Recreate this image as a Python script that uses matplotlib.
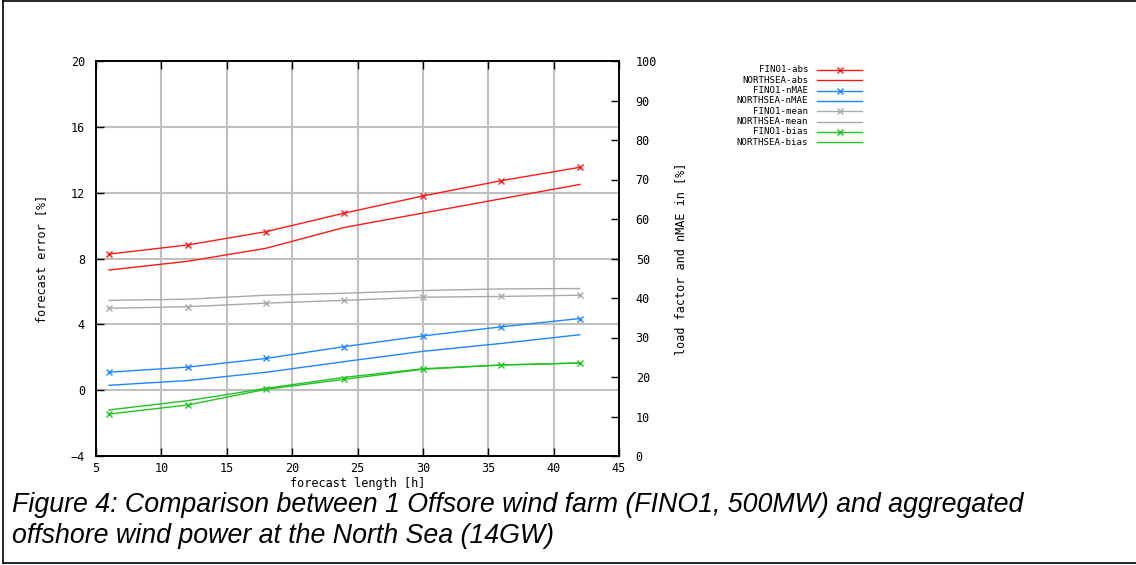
import matplotlib
matplotlib.use("Agg")
import matplotlib.pyplot as plt
from matplotlib.lines import Line2D

# forecast horizons [h]
hours = [6, 12, 18, 24, 30, 36, 42]

# left axis: forecast error [%]
fino1_abs = [8.27, 8.82, 9.63, 10.76, 11.8, 12.73, 13.54]
northsea_abs = [7.3, 7.83, 8.62, 9.89, 10.76, 11.63, 12.5]
fino1_bias = [-1.45, -0.9, 0.05, 0.66, 1.27, 1.53, 1.65]
northsea_bias = [-1.2, -0.64, 0.11, 0.78, 1.3, 1.53, 1.65]

# right axis: load factor and nMAE [%]
fino1_nmae = [21.2, 22.5, 24.7, 27.7, 30.4, 32.7, 34.8]
northsea_nmae = [17.9, 19.1, 21.2, 23.9, 26.5, 28.5, 30.7]
fino1_mean = [37.4, 37.8, 38.7, 39.4, 40.2, 40.4, 40.7]
northsea_mean = [39.4, 39.7, 40.7, 41.2, 41.9, 42.3, 42.4]

series_labels = ["FINO1-abs", "NORTHSEA-abs", "FINO1-nMAE", "NORTHSEA-nMAE",
                 "FINO1-mean", "NORTHSEA-mean", "FINO1-bias", "NORTHSEA-bias"]

x_ticks = [5, 10, 15, 20, 25, 30, 35, 40, 45]
left_ticks = [-4, 0, 4, 8, 12, 16, 20]
right_ticks = [0, 10, 20, 30, 40, 50, 60, 70, 80, 90, 100]

RED = "#ff1a1a"
BLUE = "#1f86ff"
GRAY = "#a9a9a9"
GREEN = "#22c322"
MONO = "DejaVu Sans Mono"
FS = 8.5

W, H = 1136, 565
fig = plt.figure(figsize=(W / 100, H / 100), dpi=100)

def fx(px):
    return px / W

def fy(py):
    return 1 - py / H

# outer frame (top, bottom, left only - right edge is cut off)
for xs, ys in [([3, W + 5], [1, 1]), ([3, W + 5], [563, 563]), ([3, 3], [1, 563])]:
    fig.add_artist(Line2D([fx(v) for v in xs], [fy(v) for v in ys],
                          color="black", linewidth=1.2))

left, right, top, bottom = 96, 619, 61, 456
ax = fig.add_axes([fx(left), fy(bottom), (right - left) / W, (bottom - top) / H])
ax2 = ax.twinx()

ax.set_xlim(5, 45)
ax.set_ylim(-4, 20)
ax2.set_ylim(0, 100)

# grid
for gx in x_ticks[1:-1]:
    ax.axvline(gx, color="#c0c0c0", linewidth=1.5, zorder=0)
for gy in left_ticks[1:-1]:
    ax.axhline(gy, color="#c0c0c0", linewidth=1.5, zorder=0)

mk = dict(marker="x", markersize=4.5, markeredgewidth=1.0)
lines = []
lines += ax.plot(hours, fino1_abs, color=RED, linewidth=1.0, **mk)
lines += ax.plot(hours, northsea_abs, color=RED, linewidth=1.0)
lines += ax2.plot(hours, fino1_nmae, color=BLUE, linewidth=1.0, **mk)
lines += ax2.plot(hours, northsea_nmae, color=BLUE, linewidth=1.0)
lines += ax2.plot(hours, fino1_mean, color=GRAY, linewidth=1.0, **mk)
lines += ax2.plot(hours, northsea_mean, color=GRAY, linewidth=1.0)
lines += ax.plot(hours, fino1_bias, color=GREEN, linewidth=1.0, **mk)
lines += ax.plot(hours, northsea_bias, color=GREEN, linewidth=1.0)

for a in (ax, ax2):
    for s in a.spines.values():
        s.set_color("black")
        s.set_linewidth(1.2)

ax.set_xticks(x_ticks)
ax.set_yticks(left_ticks)
ax2.set_yticks(right_ticks)
ax.tick_params(axis="both", direction="in", length=6, width=1, labelsize=FS,
               top=True, pad=8)
ax.tick_params(axis="x", pad=4)
ax2.tick_params(axis="y", direction="in", length=6, width=1, labelsize=FS, pad=12)
for lab in ax.get_xticklabels() + ax.get_yticklabels() + ax2.get_yticklabels():
    lab.set_fontfamily(MONO)

ax.set_xlabel("forecast length [h]", fontfamily=MONO, fontsize=FS, labelpad=2)
ax.set_ylabel("forecast error [%]", fontfamily=MONO, fontsize=FS, labelpad=16)
ax2.set_ylabel("load factor and nMAE in [%]", fontfamily=MONO, fontsize=FS,
               rotation=90, labelpad=12)

# legend drawn gnuplot style: text right aligned, sample line to the right
for i, (ln, lab) in enumerate(zip(lines, series_labels)):
    y = fy(70 + 10.3 * i)
    fig.text(fx(808), y, lab, ha="right", va="center", fontfamily=MONO, fontsize=6.6)
    fig.add_artist(Line2D([fx(817), fx(862)], [y, y], color=ln.get_color(),
                          linewidth=1.0))
    if ln.get_marker() not in (None, "None", ""):
        fig.add_artist(Line2D([fx(840)], [y], color=ln.get_color(), marker="x",
                              markersize=4.5, markeredgewidth=1.0))

fig.text(fx(12), fy(512),
         "Figure 4: Comparison between 1 Offsore wind farm (FINO1, 500MW) and aggregated",
         fontfamily="Liberation Sans", style="italic", fontsize=19.3, va="baseline")
fig.text(fx(12), fy(543), "offshore wind power at the North Sea (14GW)",
         fontfamily="Liberation Sans", style="italic", fontsize=19.3, va="baseline")

fig.savefig("out.png", dpi=100)
